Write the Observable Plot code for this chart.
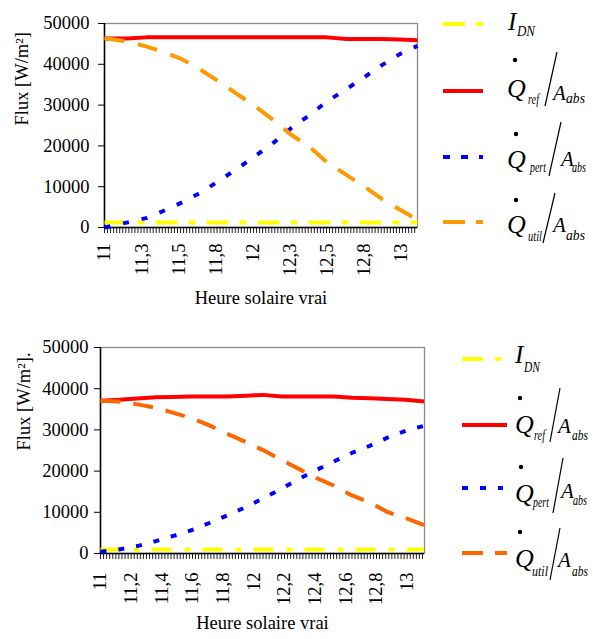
<!DOCTYPE html>
<html>
<head>
<meta charset="utf-8">
<script src="https://cdn.jsdelivr.net/npm/d3@7"></script>
<script src="https://cdn.jsdelivr.net/npm/@observablehq/plot@0.6"></script>
<style>
  html, body { margin: 0; padding: 0; background: #fff; }
  #wrap { position: relative; width: 593px; height: 639px; overflow: hidden; }
  #wrap > svg.plot { display: block; font-family: "Liberation Serif", "Tinos", "DejaVu Serif", serif !important; font-size: 18.5px !important; color: #000; }
  #wrap > svg.plot text { font-family: "Liberation Serif", "Tinos", "DejaVu Serif", serif !important; }
  #legend { position: absolute; left: 0; top: 0; }
  #legend text { font-family: "Liberation Serif", "Tinos", "DejaVu Serif", serif !important; font-style: italic; }
</style>
</head>
<body>
<div id="wrap"></div>
<script>
// ---------- Data: top chart ----------
const hoursA = [11.0, 11.15, 11.28, 11.4, 11.52, 11.65, 11.77, 11.89, 12.02, 12.14, 12.26, 12.38, 12.5, 12.63, 12.75, 12.87, 12.99, 13.11];
const idnA   = [1200, 1200, 1200, 1200, 1200, 1200, 1200, 1200, 1200, 1200, 1200, 1200, 1200, 1200, 1200, 1200, 1200, 1200];
const qrefA  = [46300, 46300, 46600, 46600, 46600, 46600, 46600, 46600, 46600, 46600, 46600, 46600, 46600, 46200, 46200, 46200, 46100, 45900];
const qpertA = [0, 1200, 2300, 4100, 6100, 8600, 11400, 14300, 17600, 20800, 24400, 27500, 30900, 33900, 36800, 39800, 42500, 44500];
const qutilA = [46400, 45600, 44400, 43000, 41300, 38600, 35800, 32800, 29600, 26300, 22700, 19800, 16000, 12900, 10100, 7000, 4400, 1900];
const tickValuesA = [11, 11.25, 11.5, 11.75, 12, 12.25, 12.5, 12.75, 13];
const tickLabelsA = ["11", "11,3", "11,5", "11,8", "12", "12,3", "12,5", "12,8", "13"];

// ---------- Data: bottom chart ----------
const hoursB = [11.0, 11.12, 11.24, 11.36, 11.47, 11.59, 11.71, 11.83, 11.95, 12.06, 12.18, 12.29, 12.41, 12.52, 12.64, 12.76, 12.87, 12.99, 13.11];
const idnB   = [1000, 1000, 1000, 1000, 1000, 1000, 1000, 1000, 1000, 1000, 1000, 1000, 1000, 1000, 1000, 1000, 1000, 1000, 1000];
const qrefB  = [37100, 37300, 37600, 37900, 38000, 38100, 38100, 38100, 38300, 38500, 38100, 38100, 38100, 38100, 37800, 37700, 37500, 37300, 36900];
const qpertB = [400, 970, 1800, 3000, 4200, 5600, 7400, 9300, 11300, 13400, 15700, 18000, 20300, 22300, 24400, 26200, 28100, 29800, 31000];
const qutilB = [37100, 36900, 36200, 35400, 34200, 32900, 31100, 29000, 27000, 25100, 22700, 20600, 18300, 16500, 14100, 12300, 10100, 8600, 6900];
const tickValuesB = [11, 11.2, 11.4, 11.6, 11.8, 12, 12.2, 12.4, 12.6, 12.8, 13];
const tickLabelsB = ["11", "11,2", "11,4", "11,6", "11,8", "12", "12,2", "12,4", "12,6", "12,8", "13"];

const yTicks = [0, 10000, 20000, 30000, 40000, 50000];
const xLabel = "Heure solaire vrai";

const FONT = "Liberation Serif, Tinos, DejaVu Serif, serif";
const FS = 18.5;

function rows(hours, vals) { return hours.map((h, i) => ({h, v: vals[i]})); }

function chart(cfg) {
  const dense = d3.range(cfg.domain[0], cfg.domain[1] + 1e-9, cfg.minorStep);
  const S = cfg.series;
  const lineMark = (vals, color, dash) =>
    Plot.line(rows(cfg.hours, vals), {x: "h", y: "v", stroke: color, strokeWidth: 4,
      strokeDasharray: dash, strokeLinecap: "butt", strokeLinejoin: "round"});
  return Plot.plot({
    width: 593, height: cfg.height,
    marginLeft: cfg.ml, marginRight: cfg.mr, marginTop: cfg.mt, marginBottom: cfg.mb,
    x: {domain: cfg.domain},
    y: {domain: [0, 50000]},
    style: {"font-family": FONT, "font-size": FS + "px", color: "#000", background: "white", overflow: "visible"},
    className: "plot",
    marks: [
      Plot.frame({stroke: "#8a8a8a", strokeWidth: 1.3}),
      Plot.axisY({ticks: yTicks, tickSize: 6, tickPadding: cfg.yPad, tickFormat: d => String(d), label: null, fontSize: FS}),
      Plot.axisX({ticks: dense, tickSize: 6, tickFormat: () => "", label: null, stroke: "#222", strokeWidth: 1}),
      Plot.ruleX([cfg.domain[0]], {stroke: "#000", strokeWidth: 1.5}),
      Plot.ruleY([0], {stroke: "#000", strokeWidth: 1.5}),
      lineMark(S.idn, "#FFFF00", S.idnDash),
      lineMark(S.qref, "#FF0000", null),
      lineMark(S.qpert, "#0000FF", S.pertDash),
      lineMark(S.qutil, S.utilColor, S.utilDash),
      Plot.text(cfg.tickValues, {x: d => d, text: (d, i) => cfg.tickLabels[i], frameAnchor: "bottom",
        rotate: -90, textAnchor: "end", lineAnchor: "middle", dy: cfg.labelDy, fontSize: FS}),
      Plot.text([xLabel], {frameAnchor: "bottom", dy: cfg.titleDy, fontSize: FS}),
      Plot.text([cfg.yLabel], {frameAnchor: "left", rotate: -90, dx: cfg.yLabelDx, fontSize: FS})
    ]
  });
}

const wrap = document.getElementById("wrap");

wrap.appendChild(chart({
  height: 320, ml: 104, mr: 176, mt: 23, mb: 93,
  domain: [11, 13.11], minorStep: 0.0205, yPad: 9,
  hours: hoursA,
  series: {idn: idnA, qref: qrefA, qpert: qpertA, qutil: qutilA,
    idnDash: "22,11,7,11", pertDash: "6,13", utilDash: "20,14", utilColor: "#FF9900"},
  tickValues: tickValuesA, tickLabels: tickLabelsA, labelDy: 16, titleDy: 76,
  yLabel: "Flux [W/m²]", yLabelDx: -82
}));

wrap.appendChild(chart({
  height: 319, ml: 100, mr: 169, mt: 27, mb: 86,
  domain: [11, 13.113], minorStep: 0.02, yPad: 6,
  hours: hoursB,
  series: {idn: idnB, qref: qrefB, qpert: qpertB, qutil: qutilB,
    idnDash: "20,13,6,12", pertDash: "6,12", utilDash: "20,13", utilColor: "#FF6600"},
  tickValues: tickValuesB, tickLabels: tickLabelsB, labelDy: 19, titleDy: 75,
  yLabel: "Flux [W/m²].", yLabelDx: -76
}));

// ---------- Legend (drawn beside the charts) ----------
// each text: [x, baseline, width]
const legendItems = [
  // top chart
  {kind: "I", color: "#FFFF00", dash: "22,11,7", line: [443, 483, 24], I: [508, 30], sub: [517, 36, 18]},
  {kind: "Q", sub: "ref", color: "#FF0000", dash: null, line: [443, 483, 91], dot: [515, 60], Q: [507, 97], s: [528, 104, 11], slash: [545, 106, 557, 52], A: [553, 100], abs: [566, 103, 19]},
  {kind: "Q", sub: "pert", color: "#0000FF", dash: "7,11", line: [443, 483, 157], dot: [516, 134], Q: [507, 168], s: [530, 172, 16], slash: [549, 176, 561, 122], A: [561, 166], abs: [572, 172, 14]},
  {kind: "Q", sub: "util", color: "#FF9900", dash: "22,11,7", line: [443, 483, 222], dot: [516, 200], Q: [507, 233], s: [528, 241, 14], slash: [543, 243, 555, 193], A: [553, 232], abs: [566, 240, 19]},
  // bottom chart
  {kind: "I", color: "#FFFF00", dash: "21,12,6", line: [462, 501, 359], I: [515, 363], sub: [524, 372, 16]},
  {kind: "Q", sub: "ref", color: "#FF0000", dash: null, line: [462, 507, 425], dot: [520, 398], Q: [515, 433], s: [534, 440, 11], slash: [550, 442, 560, 388], A: [558, 433], abs: [572, 440, 16]},
  {kind: "Q", sub: "pert", color: "#0000FF", dash: "6,12", line: [462, 503, 488], dot: [521, 467], Q: [515, 502], s: [533, 507, 16], slash: [553, 513, 563, 458], A: [561, 498], abs: [573, 505, 14]},
  {kind: "Q", sub: "util", color: "#FF6600", dash: "21,12", line: [462, 507, 553], dot: [520, 532], Q: [515, 567], s: [532, 576, 16], slash: [550, 580, 560, 528], A: [558, 567], abs: [572, 576, 16]}
];

const lg = d3.select(wrap).append("svg").attr("id", "legend")
  .attr("width", 593).attr("height", 639)
  .attr("font-family", FONT).attr("font-style", "italic");

function txt(x, y, t, size, w) {
  const e = lg.append("text").attr("x", x).attr("y", y).attr("font-size", size).attr("fill", "#000").text(t);
  if (w) e.attr("textLength", w).attr("lengthAdjust", "spacingAndGlyphs");
}

for (const it of legendItems) {
  const [x1, x2, y] = it.line;
  const ln = lg.append("line").attr("x1", x1).attr("x2", x2).attr("y1", y).attr("y2", y)
    .attr("stroke", it.color).attr("stroke-width", 4);
  if (it.dash) ln.attr("stroke-dasharray", it.dash);
  if (it.kind === "I") {
    txt(it.I[0], it.I[1], "I", 25);
    txt(it.sub[0], it.sub[1], "DN", 14, it.sub[2]);
  } else {
    lg.append("circle").attr("cx", it.dot[0]).attr("cy", it.dot[1]).attr("r", 2.2).attr("fill", "#000");
    txt(it.Q[0], it.Q[1], "Q", 26);
    txt(it.s[0], it.s[1], it.sub, 15, it.s[2]);
    lg.append("line").attr("x1", it.slash[0]).attr("y1", it.slash[1]).attr("x2", it.slash[2]).attr("y2", it.slash[3])
      .attr("stroke", "#000").attr("stroke-width", 1.2);
    txt(it.A[0], it.A[1], "A", 21);
    txt(it.abs[0], it.abs[1], "abs", 15, it.abs[2]);
  }
}
</script>
</body>
</html>
